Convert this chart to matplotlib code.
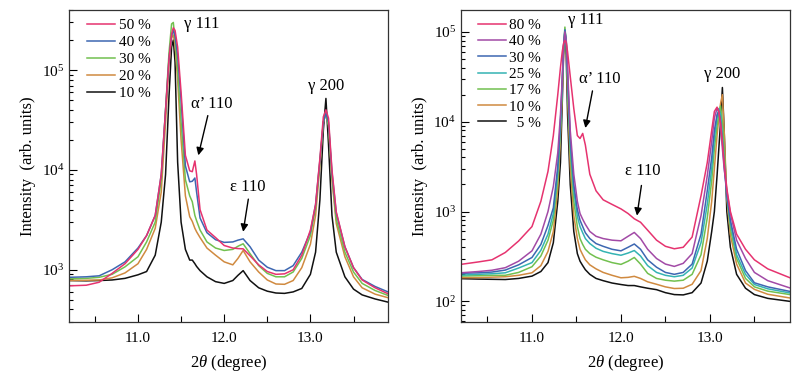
import numpy as np
import matplotlib
matplotlib.use('Agg')
import matplotlib.pyplot as plt
from matplotlib.ticker import LogLocator, NullFormatter, FixedLocator

plt.rcParams['font.family'] = ['Liberation Serif', 'DejaVu Serif']
plt.rcParams['mathtext.fontset'] = 'custom'
plt.rcParams['mathtext.rm'] = 'Liberation Serif'
plt.rcParams['mathtext.it'] = 'Liberation Serif:italic'
plt.rcParams['font.size'] = 10.5

# ---- left panel: 2theta grid and intensities (arb. units)
two_theta_left = [10.2, 10.4, 10.55, 10.7, 10.85, 11.0, 11.1, 11.2, 11.27, 11.32, 11.36, 11.39,
                  11.41, 11.43, 11.46, 11.5, 11.55, 11.6, 11.63, 11.66, 11.68, 11.72, 11.8, 11.9,
                  12.0, 12.1, 12.16, 12.22, 12.3, 12.4, 12.5, 12.6, 12.7, 12.8, 12.9, 13.0,
                  13.06, 13.11, 13.15, 13.18, 13.21, 13.25, 13.3, 13.4, 13.5, 13.6, 13.75, 13.9]
left_50 = [690, 700, 750, 920, 1150, 1600, 2200, 3500, 9000, 40000, 130000, 230000,
           265000, 250000, 170000, 60000, 14000, 9800, 9600, 12300, 9000, 4000, 2500, 2100,
           1750, 1650, 1630, 1620, 1380, 1120, 960, 900, 910, 1000, 1400, 2500,
           4500, 13000, 34000, 40000, 33000, 10000, 3800, 1700, 1050, 790, 660, 575]
left_40 = [840, 850, 870, 1000, 1200, 1650, 2200, 3500, 9000, 40000, 130000, 220000,
           250000, 220000, 140000, 50000, 11000, 7600, 7700, 8300, 6000, 3300, 2350, 2000,
           1880, 1900, 1980, 2040, 1700, 1250, 1060, 980, 980, 1100, 1500, 2400,
           4500, 12500, 30000, 37000, 30000, 9500, 3700, 1700, 1050, 800, 680, 600]
left_30 = [810, 820, 840, 900, 1070, 1350, 1900, 3000, 8000, 40000, 150000, 290000,
           300000, 200000, 100000, 30000, 8000, 5500, 4800, 3500, 3100, 2500, 1900, 1650,
           1560, 1600, 1720, 1820, 1450, 1100, 920, 850, 850, 950, 1300, 2200,
           4200, 12000, 30000, 37000, 28000, 8500, 3200, 1500, 950, 730, 620, 553]
left_20 = [780, 785, 790, 830, 930, 1150, 1600, 2600, 6000, 30000, 120000, 210000,
           225000, 180000, 80000, 20000, 5500, 3400, 3050, 2600, 2400, 2100, 1650, 1400,
           1200, 1120, 1300, 1560, 1200, 950, 790, 720, 715, 780, 1050, 1800,
           3500, 11000, 30000, 37000, 28000, 8000, 2900, 1350, 850, 660, 570, 525]
left_10 = [780, 775, 780, 790, 820, 890, 960, 1400, 3000, 9000, 55000, 170000,
           200000, 120000, 12000, 3000, 1600, 1250, 1250, 1150, 1080, 980, 850, 760,
           730, 780, 880, 980, 780, 660, 610, 585, 580, 600, 650, 900,
           1500, 5000, 25000, 52000, 18000, 3500, 1500, 850, 640, 560, 510, 474]
left_labels = ['50 %', '40 %', '30 %', '20 %', '10 %']
left_colors = ['#e6336f', '#3d67b1', '#72c04f', '#d08a40', '#111111']

# ---- right panel
two_theta_right = [10.2, 10.4, 10.55, 10.7, 10.85, 11.0, 11.1, 11.18, 11.24, 11.29, 11.32, 11.34,
                   11.355, 11.37, 11.385, 11.40, 11.43, 11.47, 11.51, 11.54, 11.57, 11.6, 11.65,
                   11.72, 11.8, 11.9, 12.0, 12.08, 12.15, 12.22, 12.3, 12.4, 12.5, 12.6, 12.7,
                   12.8, 12.9, 12.97, 13.02, 13.05, 13.08, 13.1, 13.12, 13.14, 13.16, 13.19,
                   13.23, 13.3, 13.4, 13.5, 13.65, 13.9]
right_80 = [258, 275, 290, 350, 470, 680, 1300, 2800, 7000, 20000, 40000, 60000,
            74000, 80000, 76000, 60000, 32000, 14000, 7000, 6500, 7400, 5500, 2600,
            1700, 1350, 1200, 1070, 950, 830, 760, 620, 480, 410, 385, 400,
            520, 1500, 3500, 8000, 13000, 14500, 13000, 9500, 6000, 3500, 1800,
            1000, 560, 380, 290, 230, 183]
right_40 = [208, 215, 222, 237, 280, 365, 560, 1000, 1900, 4500, 12000, 30000,
            70000, 100000, 80000, 40000, 8000, 2600, 1300, 950, 820, 720, 600,
            530, 500, 480, 472, 530, 585, 500, 380, 300, 260, 245, 265,
            340, 900, 2500, 6000, 11000, 14000, 13000, 9000, 5000, 3000, 1700,
            950, 480, 300, 210, 170, 141]
right_30 = [205, 208, 212, 223, 255, 308, 430, 700, 1100, 3200, 10000, 28000,
            70000, 105000, 80000, 35000, 6500, 2000, 1050, 800, 680, 580, 500,
            440, 410, 380, 365, 400, 435, 380, 290, 240, 210, 200, 210,
            260, 560, 1700, 4000, 8000, 12000, 13000, 10000, 6000, 3200, 1500,
            800, 380, 220, 161, 145, 129]
right_25 = [196, 200, 203, 208, 235, 270, 370, 560, 950, 2800, 9000, 26000,
            68000, 105000, 78000, 30000, 5500, 1700, 880, 680, 580, 500, 440,
            390, 360, 340, 326, 345, 368, 320, 250, 210, 195, 188, 195,
            235, 450, 1200, 3000, 6500, 11000, 14000, 12000, 7000, 3800, 1500,
            750, 330, 200, 154, 138, 124]
right_17 = [191, 193, 195, 195, 210, 243, 320, 480, 800, 2300, 8000, 24000,
            66000, 113000, 75000, 26000, 4500, 1300, 680, 500, 430, 380, 340,
            310, 290, 270, 258, 280, 308, 260, 205, 180, 172, 168, 172,
            200, 330, 850, 2200, 5000, 9000, 12000, 15000, 10000, 5000, 1500,
            650, 300, 180, 145, 130, 119]
right_10 = [183, 184, 186, 188, 195, 208, 250, 360, 600, 1800, 6500, 20000,
            60000, 100000, 70000, 20000, 3200, 900, 500, 380, 330, 290, 255,
            230, 210, 195, 183, 185, 190, 180, 165, 155, 145, 139, 140,
            155, 220, 500, 1300, 3000, 7000, 11000, 16000, 20000, 8000, 1400,
            550, 260, 160, 136, 120, 109]
right_5 = [179, 177, 176, 175, 180, 191, 215, 270, 450, 1300, 3500, 16000,
           55000, 95000, 55000, 12000, 2000, 600, 340, 280, 250, 225, 200,
           180, 170, 160, 154, 150, 150, 145, 140, 135, 125, 119, 118,
           125, 160, 280, 600, 1000, 2500, 5000, 10000, 24000, 8000, 1000,
           400, 200, 140, 119, 108, 100]
right_labels = ['80 %', '40 %', '30 %', '25 %', '17 %', '10 %', '  5 %']
right_colors = ['#e6336f', '#a24aa6', '#3d67b1', '#34b3b3', '#72c04f', '#d08a40', '#111111']


def style_axes(ax, ylim, ymajors):
    ax.set_yscale('log')
    ax.set_xlim(10.2, 13.9)
    ax.set_ylim(*ylim)
    ax.xaxis.set_major_locator(FixedLocator([11.0, 12.0, 13.0]))
    ax.xaxis.set_minor_locator(FixedLocator([10.5, 11.5, 12.5, 13.5]))
    ax.set_xticklabels(['11.0', '12.0', '13.0'])
    ax.yaxis.set_major_locator(FixedLocator(ymajors))
    ax.yaxis.set_minor_locator(LogLocator(base=10, subs=np.arange(2, 10)))
    ax.yaxis.set_minor_formatter(NullFormatter())
    ax.tick_params(which='both', direction='in', top=False, right=False)
    ax.tick_params(which='major', length=6, width=0.8, labelsize=11)
    ax.tick_params(which='minor', length=3, width=0.8)
    ax.tick_params(axis='x', which='minor', length=4)
    ax.tick_params(axis='x', pad=7)
    for s in ax.spines.values():
        s.set_linewidth(0.9)
        s.set_color('#333333')
    ax.set_xlabel(r'2$\it{\theta}$ (degree)', fontsize=12, labelpad=6)
    ax.set_ylabel('Intensity  (arb. units)', fontsize=12, labelpad=4)


fig = plt.figure(figsize=(8.0, 3.77), dpi=100)
ax1 = fig.add_axes([0.08625, 0.146, 0.39875, 0.8275])
ax2 = fig.add_axes([0.576, 0.146, 0.4115, 0.8275])

legend_kw = dict(loc='upper left', frameon=False, handlelength=1.8, handletextpad=0.25,
                 borderaxespad=0.15, fontsize=11)

series_l = [left_50, left_40, left_30, left_20, left_10]
lines_l = []
for y, lab, col in list(zip(series_l, left_labels, left_colors))[::-1]:
    ln, = ax1.plot(two_theta_left, y, color=col, lw=1.1, label=lab)
    lines_l.append(ln)
ax1.legend(lines_l[::-1], left_labels, bbox_to_anchor=(0.031, 1.0), labelspacing=0.22, **legend_kw)
style_axes(ax1, (300, 4.0e5), [1e3, 1e4, 1e5])

series_r = [right_80, right_40, right_30, right_25, right_17, right_10, right_5]
lines_r = []
for y, lab, col in list(zip(series_r, right_labels, right_colors))[::-1]:
    ln, = ax2.plot(two_theta_right, y, color=col, lw=1.1, label=lab)
    lines_r.append(ln)
ax2.legend(lines_r[::-1], right_labels, bbox_to_anchor=(0.027, 1.0), labelspacing=0.17, **legend_kw)
style_axes(ax2, (59, 1.75e5), [1e2, 1e3, 1e4, 1e5])

arrow = dict(arrowstyle='-|>', color='k', lw=1.0, mutation_scale=11, shrinkA=0, shrinkB=0)

# left annotations
ax1.text(11.53, 2.9e5, 'γ 111', fontsize=12, va='center', ha='left')
ax1.text(13.18, 7.0e4, 'γ 200', fontsize=12, va='center', ha='center')
ax1.text(11.86, 4.6e4, 'α’ 110', fontsize=12, va='center', ha='center')
ax1.annotate('', xy=(11.70, 1.4e4), xytext=(11.81, 3.5e4), arrowprops=arrow)
ax1.text(12.27, 6.7e3, 'ε 110', fontsize=12, va='center', ha='center')
ax1.annotate('', xy=(12.22, 2.4e3), xytext=(12.28, 5.1e3), arrowprops=arrow)

# right annotations
ax2.text(11.40, 1.34e5, 'γ 111', fontsize=12, va='center', ha='left')
ax2.text(13.14, 3.4e4, 'γ 200', fontsize=12, va='center', ha='center')
ax2.text(11.76, 3.0e4, 'α’ 110', fontsize=12, va='center', ha='center')
ax2.annotate('', xy=(11.60, 8.5e3), xytext=(11.68, 2.2e4), arrowprops=arrow)
ax2.text(12.24, 2.8e3, 'ε 110', fontsize=12, va='center', ha='center')
ax2.annotate('', xy=(12.18, 900), xytext=(12.23, 1.95e3), arrowprops=arrow)

fig.savefig('out.png', dpi=100)
